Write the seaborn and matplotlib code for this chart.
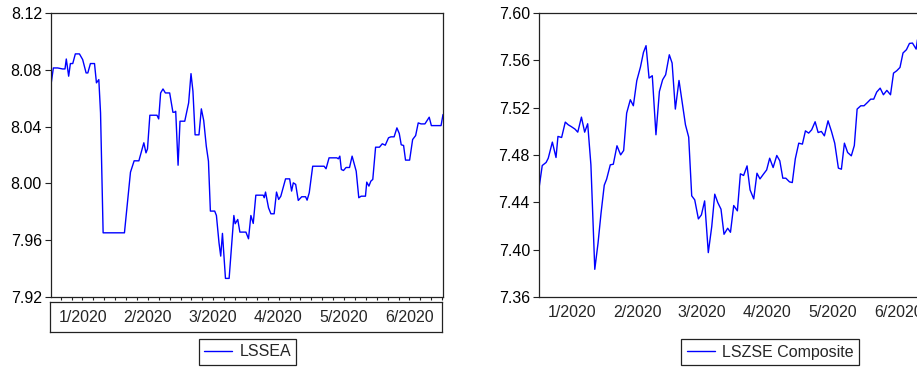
import numpy as np
import pandas as pd
import matplotlib
matplotlib.use('Agg')
import matplotlib.pyplot as plt
import seaborn as sns
from matplotlib.transforms import blended_transform_factory

# ---------------- data (days since 2020-01-01, log index levels) ----------------
lssea_day = [0.0, 1.1, 3.1, 5.4, 6.5, 7.1, 8.2, 9.0, 10.1, 11.3,
             13.2, 14.7, 16.3, 17.1, 18.3, 20.2, 21.1, 22.2, 23.0, 24.2,
             34.1, 36.9, 38.6, 40.8, 43.1, 44.1, 44.8, 45.9, 49.2, 50.0,
             50.9, 52.0, 53.1, 55.1, 56.6, 57.3, 57.9, 59.0, 59.9, 62.1,
             63.9, 65.0, 65.9, 66.9, 68.7, 69.8, 70.9, 72.1, 73.1, 74.0,
             76.0, 76.8, 78.0, 78.8, 79.6, 81.0, 82.7, 84.9, 85.5, 86.7,
             87.7, 90.5, 91.7, 92.8, 93.9, 95.1, 98.5, 99.0, 99.6, 101.0,
             102.1, 103.6, 104.7, 105.7, 106.7, 108.9, 110.8, 111.7, 112.5, 113.6,
             114.8, 116.4, 118.2, 118.9, 119.9, 121.5, 126.8, 127.7, 129.1, 132.7,
             133.4, 134.1, 134.8, 135.8, 137.0, 138.6, 139.8, 141.7, 142.9, 144.0,
             146.0, 146.6, 147.6, 148.5, 149.4, 150.7, 152.5, 153.8, 155.2, 156.7,
             157.8, 159.3, 160.6, 161.7, 162.6, 163.7, 164.6, 166.5, 167.9, 169.3,
             170.5, 171.8, 173.6, 175.6, 176.6, 181.1, 182.0]
lssea_val = [8.0696, 8.0813, 8.0813, 8.0806, 8.0806, 8.0876, 8.0755, 8.0844, 8.0844, 8.0912,
             8.0912, 8.0872, 8.0778, 8.0778, 8.0844, 8.0844, 8.0708, 8.0731, 8.0497, 7.9652,
             7.9652, 8.0079, 8.0159, 8.0159, 8.0286, 8.0215, 8.0243, 8.0480, 8.0480, 8.0454,
             8.0637, 8.0665, 8.0637, 8.0637, 8.0501, 8.0501, 8.0508, 8.0128, 8.0438, 8.0438,
             8.0567, 8.0773, 8.0649, 8.0342, 8.0342, 8.0525, 8.0443, 8.0262, 8.0157, 7.9805,
             7.9805, 7.9774, 7.9582, 7.9488, 7.9648, 7.9331, 7.9331, 7.9774, 7.9716, 7.9746,
             7.9657, 7.9657, 7.9610, 7.9774, 7.9718, 7.9917, 7.9917, 7.9899, 7.9939, 7.9828,
             7.9786, 7.9786, 7.9939, 7.9887, 7.9910, 8.0032, 8.0032, 7.9946, 8.0004, 7.9993,
             7.9880, 7.9906, 7.9906, 7.9882, 7.9934, 8.0121, 8.0121, 8.0103, 8.0180, 8.0180,
             8.0173, 8.0192, 8.0098, 8.0091, 8.0112, 8.0112, 8.0192, 8.0086, 7.9899, 7.9910,
             7.9910, 8.0009, 7.9981, 8.0016, 8.0028, 8.0255, 8.0255, 8.0279, 8.0269, 8.0321,
             8.0328, 8.0328, 8.0391, 8.0351, 8.0272, 8.0267, 8.0164, 8.0164, 8.0309, 8.0337,
             8.0426, 8.0419, 8.0419, 8.0466, 8.0407, 8.0407, 8.0485]

lszse_day = [0.0, 1.5, 3.3, 4.3, 6.2, 7.9, 8.8, 10.5, 12.2, 13.6,
             14.9, 16.7, 18.0, 19.7, 21.2, 22.6, 24.1, 25.9, 27.4, 28.8,
             30.3, 31.4, 33.1, 34.5, 36.2, 37.9, 39.3, 40.7, 42.4, 43.8,
             45.4, 47.1, 48.5, 49.7, 51.1, 52.6, 54.3, 55.9, 57.4, 58.8,
             60.5, 61.8, 63.3, 65.0, 66.6, 68.0, 69.5, 70.9, 72.3, 74.0,
             75.4, 76.9, 78.6, 80.2, 81.6, 83.0, 84.5, 85.9, 87.6, 88.9,
             90.4, 92.1, 93.5, 95.0, 96.6, 98.0, 99.7, 101.2, 102.6, 104.2,
             105.7, 107.1, 108.7, 110.4, 111.8, 113.2, 114.6, 116.3, 117.6, 119.0,
             120.6, 122.3, 123.7, 125.2, 126.6, 128.2, 129.6, 131.1, 132.5, 134.2,
             135.8, 137.3, 139.0, 140.4, 141.8, 143.3, 145.0, 146.4, 147.7, 149.4,
             150.9, 152.5, 154.0, 155.4, 156.8, 158.4, 159.9, 161.5, 163.2, 164.6,
             166.1, 167.6, 169.0, 170.6, 172.0, 173.4, 175.1, 175.7]
lszse_val = [7.4519, 7.4711, 7.4737, 7.4773, 7.4909, 7.4779, 7.4957, 7.4948, 7.5078, 7.5055,
             7.5041, 7.5019, 7.4993, 7.5120, 7.4993, 7.5064, 7.4717, 7.3834, 7.4054, 7.4308,
             7.4545, 7.4596, 7.4717, 7.4722, 7.4878, 7.4801, 7.4838, 7.5154, 7.5267, 7.5216,
             7.5428, 7.5543, 7.5667, 7.5724, 7.5450, 7.5470, 7.4971, 7.5337, 7.5436, 7.5478,
             7.5647, 7.5577, 7.5188, 7.5430, 7.5230, 7.5055, 7.4951, 7.4455, 7.4421, 7.4260,
             7.4294, 7.4412, 7.3975, 7.4195, 7.4469, 7.4398, 7.4342, 7.4130, 7.4181, 7.4147,
             7.4373, 7.4328, 7.4641, 7.4627, 7.4708, 7.4505, 7.4429, 7.4646, 7.4598, 7.4638,
             7.4674, 7.4773, 7.4694, 7.4796, 7.4751, 7.4604, 7.4604, 7.4573, 7.4567, 7.4768,
             7.4900, 7.4892, 7.5004, 7.4985, 7.5013, 7.5081, 7.4990, 7.4999, 7.4962, 7.5089,
             7.4999, 7.4900, 7.4689, 7.4680, 7.4900, 7.4821, 7.4793, 7.4880, 7.5188, 7.5216,
             7.5216, 7.5244, 7.5272, 7.5272, 7.5332, 7.5365, 7.5309, 7.5346, 7.5309, 7.5492,
             7.5512, 7.5540, 7.5662, 7.5690, 7.5743, 7.5746, 7.5695, 7.5774]

month_labels = ['1/2020', '2/2020', '3/2020', '4/2020', '5/2020', '6/2020']
left_yticks = [7.92, 7.96, 8.00, 8.04, 8.08, 8.12]
right_yticks = [7.36, 7.40, 7.44, 7.48, 7.52, 7.56, 7.60]
series_names = ['LSSEA', 'LSZSE Composite']

# ---------------- styling ----------------
sns.set_style('white')
plt.rcParams['font.family'] = ['Liberation Sans', 'DejaVu Sans']
FS = 11.5
plt.rcParams['font.size'] = FS
LINE = '#0000FF'
FRAME = '#222222'

W, H = 917, 369
fig = plt.figure(figsize=(W / 100, H / 100), dpi=100)


def px_axes(x0, y0, x1, y1):
    return fig.add_axes([x0 / W, 1 - y1 / H, (x1 - x0) / W, (y1 - y0) / H])


t0 = pd.Timestamp('2020-01-01')
starts = pd.date_range('2020-01-01', periods=7, freq='MS')
sd = np.array([(s - t0).days for s in starts], dtype=float)
month_mid = (sd[:-1] + sd[1:]) / 2
span = sd[-1]

df_l = pd.DataFrame({'day': lssea_day, 'value': lssea_val})
df_r = pd.DataFrame({'day': lszse_day, 'value': lszse_val})


def style_axes(ax):
    for s in ax.spines.values():
        s.set_color(FRAME)
        s.set_linewidth(0.9)
    ax.set_xlabel('')
    ax.set_ylabel('')
    ax.tick_params(axis='y', which='major', left=True, direction='out',
                   length=4.0, width=0.8, color=FRAME, pad=2.5,
                   labelsize=FS, labelcolor='black')


# ---------------- left panel ----------------
axL = px_axes(51, 13, 443, 297)
sns.lineplot(data=df_l, x='day', y='value', ax=axL, color=LINE, lw=1.0,
             sort=False, estimator=None, label=series_names[0])
axL.set_xlim(0, span)
axL.set_ylim(left_yticks[0], left_yticks[-1])
axL.set_yticks(left_yticks)
axL.set_yticklabels([f'{v:.2f}' for v in left_yticks])
style_axes(axL)
axL.set_xticks(np.arange(4.5, span, 5.06))
axL.set_xticklabels([])
axL.tick_params(axis='x', bottom=True, direction='out', length=2.4,
                width=0.8, color=FRAME)

boxL = px_axes(50, 302, 442, 332)
boxL.set_xlim(0, span)
boxL.set_ylim(0, 1)
boxL.set_xticks([])
boxL.set_yticks([])
for s in boxL.spines.values():
    s.set_color(FRAME)
    s.set_linewidth(0.9)
tr = blended_transform_factory(boxL.transData, boxL.transAxes)
for m, lab in zip(month_mid, month_labels):
    boxL.text(m, 0.48, lab, transform=tr, ha='center', va='center', fontsize=FS)

legL = axL.legend(loc='center', bbox_to_anchor=(247.5 / W, 1 - 352 / H),
                  bbox_transform=fig.transFigure, fancybox=False, framealpha=1,
                  edgecolor=FRAME, handlelength=1.75, handletextpad=0.45,
                  borderpad=0.35, fontsize=FS)
legL.get_frame().set_linewidth(0.9)

# ---------------- right panel (cut off at figure edge) ----------------
axR = px_axes(539, 13, 931, 297)
sns.lineplot(data=df_r, x='day', y='value', ax=axR, color=LINE, lw=1.0,
             sort=False, estimator=None, label=series_names[1])
axR.set_xlim(0, span)
axR.set_ylim(right_yticks[0], right_yticks[-1])
axR.set_yticks(right_yticks)
axR.set_yticklabels([f'{v:.2f}' for v in right_yticks])
style_axes(axR)
axR.set_xticks(month_mid)
axR.set_xticklabels(month_labels)
axR.tick_params(axis='x', bottom=True, length=0, pad=6, labelsize=FS)

legR = axR.legend(loc='center', bbox_to_anchor=(770 / W, 1 - 352 / H),
                  bbox_transform=fig.transFigure, fancybox=False, framealpha=1,
                  edgecolor=FRAME, handlelength=1.75, handletextpad=0.45,
                  borderpad=0.35, fontsize=FS)
legR.get_frame().set_linewidth(0.9)

fig.savefig('out.png', dpi=100)
